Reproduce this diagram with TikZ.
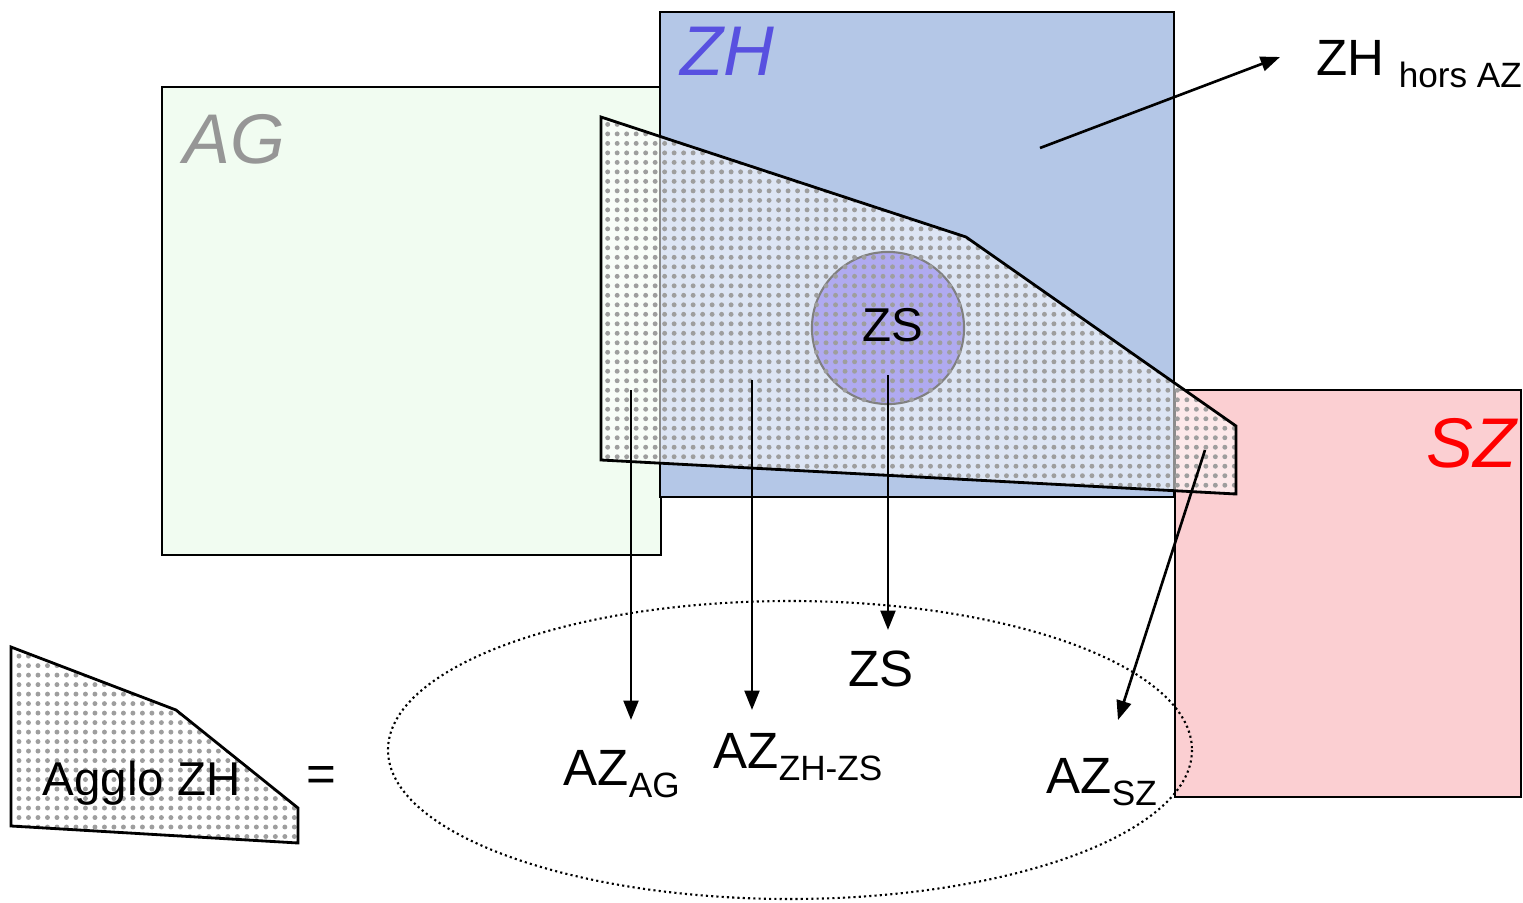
\documentclass[tikz,border=0pt]{standalone}
\usepackage{fontspec}
\setmainfont{Liberation Sans}
\usetikzlibrary{patterns.meta,arrows.meta}
\definecolor{agfill}{RGB}{241,252,241}
\definecolor{zhfill}{RGB}{180,199,231}
\definecolor{szfill}{RGB}{251,207,210}
\definecolor{zsfill}{RGB}{176,170,240}
\definecolor{agtext}{RGB}{150,150,150}
\definecolor{zhtext}{RGB}{88,80,224}
\newcommand{\subt}[1]{\raisebox{-3.5pt}{\fontsize{10}{12}\selectfont #1}}
\begin{document}
\begin{tikzpicture}[x=0.01cm,y=-0.01cm,
  box/.style={draw=black,line width=0.65pt},
  arr/.style={-{Triangle[length=5.5pt,width=4.2pt]},line width=0.75pt},
  big/.style={font=\fontsize{20}{24}\selectfont\itshape, inner sep=0, anchor=base west},
  lab/.style={font=\fontsize{14.5}{17}\selectfont, inner sep=0, anchor=base west},
  dotsfill/.style={pattern={Dots[distance=2.7pt,radius=0.7pt]},pattern color=black!38},
  outline/.style={draw=black,line width=0.8pt},
]
\useasboundingbox (0,0) rectangle (1523,903);
% boxes
\draw[box,fill=agfill] (162,87) rectangle (661,555);
\draw[box,fill=zhfill] (660,12) rectangle (1174,497);
\draw[box,fill=szfill] (1175,390) rectangle (1521,797);
% agglo polygon
\path[fill=white,fill opacity=0.55] (601,117) -- (966,237) -- (1236,426) -- (1236,494) -- (601,460) -- cycle;
\node[circle,draw=black!50,fill=zsfill,line width=0.6pt,minimum size=1.52cm,inner sep=0] (zsc) at (888,328) {};
\path[dotsfill] (601,117) -- (966,237) -- (1236,426) -- (1236,494) -- (601,460) -- cycle;
\draw[outline] (601,117) -- (966,237) -- (1236,426) -- (1236,494) -- (601,460) -- cycle;
\node[lab,font=\fontsize{13.5}{16}\selectfont] (zst) at (862,341) {ZS};
% legend polygon
\path[fill=white] (11,647) -- (176,710) -- (298,808) -- (298,843) -- (11,826) -- cycle;
\path[dotsfill] (11,647) -- (176,710) -- (298,808) -- (298,843) -- (11,826) -- cycle;
\draw[outline] (11,647) -- (176,710) -- (298,808) -- (298,843) -- (11,826) -- cycle;
\node[lab,font=\fontsize{13.5}{16}\selectfont] (agglo) at (42,795) {Agglo ZH};
\node[lab] (eq) at (306,791) {=};
% ellipse
\draw[dash pattern=on 0.6pt off 0.9pt,line width=0.6pt] (790,750) ellipse [x radius=402, y radius=149];
% big titles
\node[big,text=agtext] (ag) at (183,163) {AG};
\node[big,text=zhtext] (zh) at (680,75) {ZH};
\node[big,text=red] (sz) at (1426,467) {SZ};
% labels
\node[lab] (azag) at (563,785) {AZ\subt{AG}};
\node[lab] (azzh) at (713,768) {AZ\subt{ZH-ZS}};
\node[lab] (azsz) at (1046,793) {AZ\subt{SZ}};
\node[lab] (zsl) at (848,686) {ZS};
\node[lab] (zhh) at (1316,75) {ZH \subt{hors AZ}};
% arrow end points
\coordinate (s1) at (631,390); \coordinate (e1) at (631,720);
\coordinate (s2) at (752,380); \coordinate (e2) at (752,710);
\coordinate (s3) at (888,375); \coordinate (e3) at (888,630);
\coordinate (s4) at (1205,450); \coordinate (e4) at (1118,720);
\coordinate (s5) at (1040,148); \coordinate (e5) at (1280,57);
\draw[arr] (s1) -- (e1);
\draw[arr] (s2) -- (e2);
\draw[arr] (s3) -- (e3);
\draw[arr] (s4) -- (e4);
\draw[arr] (s5) -- (e5);
\end{tikzpicture}
\end{document}
